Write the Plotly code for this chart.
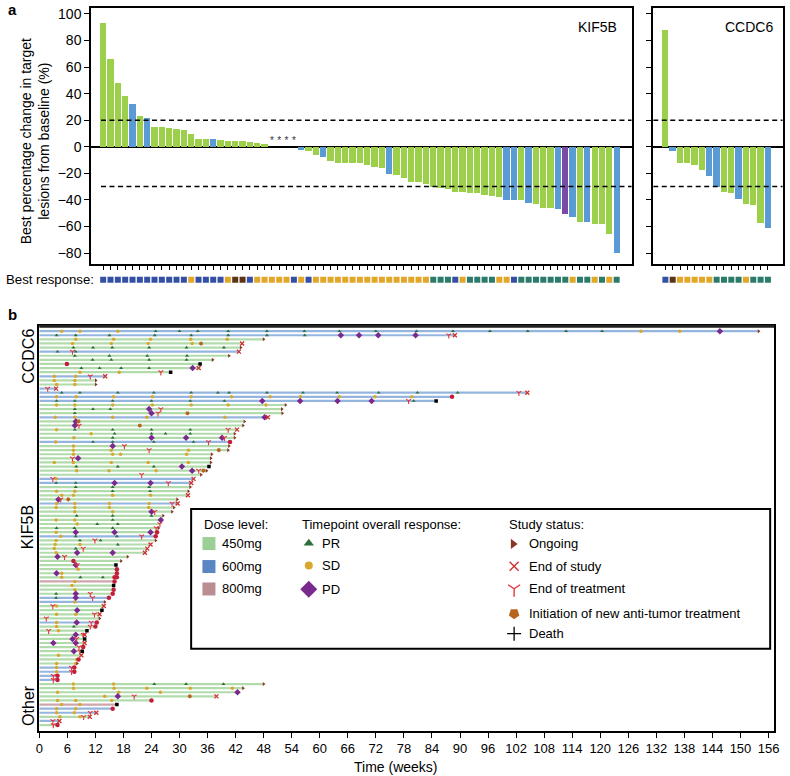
import plotly.graph_objects as go

W, H = 790, 776
def px(x): return x / W
def py(y): return 1 - y / H

FONT = "Liberation Sans, Arial, sans-serif"

# ---------------- Panel a data ----------------
kif_change = [93, 66, 48, 38, 32, 23, 21.5, 15, 15, 14,
              13.5, 13, 10, 6, 6, 5.5, 5, 4.5, 4, 4,
              3.5, 3, 2, 0, 0, 0, 0, -2.5, -3, -6,
              -7.5, -10.5, -12, -12, -12.3, -12.3, -13.8, -15.5, -16.3, -20.3,
              -21.5, -23.3, -26.8, -26.8, -28.3, -30, -31, -31.8, -34.3, -34.3,
              -34.8, -34.8, -36.3, -37.3, -38, -40, -40, -40, -42, -43.3,
              -46, -46, -46.5, -50.3, -53, -56.5, -57, -57.8, -57.8, -65.8,
              -80.3]
kif_dose = [450, 450, 450, 450, 600, 450, 600, 450, 450, 450,
            450, 450, 450, 450, 450, 600, 450, 450, 450, 450,
            450, 450, 450, 450, 450, 450, 450, 600, 450, 450,
            600, 450, 450, 450, 450, 450, 450, 450, 450, 600,
            450, 450, 450, 450, 450, 450, 450, 450, 450, 450,
            450, 450, 450, 450, 450, 600, 600, 450, 600, 450,
            450, 450, 600, 800, 600, 450, 600, 450, 450, 450,
            600]
kif_best = list("DDDDDDDDDDDDSDDDDSNNDSSSSSDSDSSSSSSSSSSSSSSSSRRRDSRRRRSSDRRRRRRRSRRSRSR")
kif_asterisk = [23, 24, 25, 26]

ccdc_change = [88.3, -3, -12.5, -12.5, -14, -17.8, -22.3, -30, -34.3, -35,
               -39.3, -43.3, -44, -57.5, -61.3]
ccdc_dose = [450, 600, 450, 450, 450, 450, 600, 600, 450, 450, 600, 450, 450, 450, 600]
ccdc_best = list("DNSSSSSRRRRSRRR")

y_ticks_a = [-80, -60, -40, -20, 0, 20, 40, 60, 80, 100]
thresholds = [20, -30]

# ---------------- Panel b data (swimmer) ----------------
group_names = ["CCDC6", "KIF5B", "Other"]
group_sizes = [15, 71, 11]
# R=PR, S=SD, D=PD, O=ongoing, X=end of study, Y=end of treatment,
# N=new anti-tumor treatment, K=death, C=overlapping end markers
swim_dose = [
    # CCDC6
    600, 600, 450, 450, 450, 600, 450, 450, 450, 450, 450, 600, 450, 450, 600,
    # KIF5B
    600, 600, 600, 450, 450, 450, 600, 450, 450, 450, 450, 450, 600, 450, 450,
    450, 450, 450, 450, 450, 450, 600, 600, 450, 450, 450, 450, 600, 450, 450,
    450, 450, 450, 450, 450, 600, 450, 450, 450, 450, 450, 450, 450, 450, 450,
    450, 800, 450, 450, 450, 600, 600, 450, 450, 450, 450, 600, 450, 450, 450,
    450, 450, 450, 450, 450, 450, 450, 600, 600, 600, 600,
    # Other
    450, 450, 450, 450, 450, 800, 600, 600, 450, 600, 450]
swim_end = [
    153.9, 88.9, 48, 43.4, 43.1, 42.7, 40.6, 37.1, 34.4, 34.1, 28.1, 14.1, 12.1, 12.1, 3.6,
    104.4, 88.3, 84.9, 52.7, 51.9, 52, 48.9, 43.9, 43.6, 42.3, 41.8, 41.8, 40.8, 40.6, 40.4,
    36.9, 36.7, 36.7, 36.3, 35.8, 34.6, 33, 32.5, 32.3, 31.9, 31.8, 29.5, 29.6, 28.8, 28.4,
    26.5, 26, 25.8, 25.5, 25.2, 24.9, 24.9, 23.8, 23.1, 22.6, 18.9, 17.5, 16.4, 16.6, 16.6,
    16.6, 16.1, 15.9, 15.9, 15.7, 14.9, 14, 13.8, 13.4, 12.9, 12.9, 12.3, 12, 10.2, 9.7,
    9.7, 9.7, 9.4, 9.2, 9, 8.4, 8.1, 7.5, 7.5, 3.9, 3.9,
    48, 43.6, 42.4, 37.9, 24, 16.6, 15.7, 12.2, 10.8, 4.3, 3.9]
swim_events = [
    # CCDC6
    "S4.8 S8.7 S16.8 R24.9 R30 R33.9 R40.4 R48.7 R56.7 R64.2 R72 R80.7 R88.5 R96.4 R104.5 R112.7 R120.4 S128.7 S137 D145.6 O153.9",
    "R3.7 R7.8 R15 R24.7 R32.5 R40.4 R48.7 R56.8 D64.5 D68.4 D72.5 D80.5 Y87.6 X88.9",
    "S7.8 S15.9 S23.8 S32.4 S40.2 O48",
    "S7.1 S15.4 S23.3 S32.7 N34.6 X43.4",
    "R7.3 R11.5 R15.6 R23.5 R31.5 R39.5 O43.1",
    "R3.9 Y7.1 R7.8 X42.7",
    "R7.6 R15 R23.1 R31.6 O40.6",
    "R11.4 R15.4 R23.5 R31.5 O37.1",
    "C5.9 K34.4",
    "R9 R12.9 R17.5 R23.5 D32.8 X34.1",
    "S8.7 S17.1 Y26 K28.1",
    "S3.2 S7.8 Y10.9 X14.1",
    "S3.2 S7.6 O12.1",
    "S3.7 S7.6 O12.1",
    "Y1.8 X3.6",
    # KIF5B
    "R4.8 R8.7 R16.8 R24.5 R32.5 R38.2 R40.6 R48.7 R56.4 R63.7 R72.6 R80.9 R89.5 Y102.6 X104.4",
    "S3.7 S7.9 S15.9 S24.2 S32.5 S41.1 S49.4 S55.9 S64.2 S71.8 S79.7 C88.3",
    "R3.7 R7.6 R15.7 R24 R32.3 R39.6 D47.7 D55.8 D63.8 D71.1 Y79 R80.1 K84.9",
    "S3.7 S7.6 S15.7 S24.2 S32.5 S40.4 S48.5 O52.7",
    "R7.6 R11.5 R15.2 D23.5 Y26 O51.9",
    "R7.6 D24 Y25.4 N31.7 O52",
    "S3.4 S7.6 S15.7 S23 S39.7 D48.2 X48.9",
    "D7.8 N8.4 O43.9",
    "D7.6 Y8.5 N21.5 O43.6",
    "S3.7 R7.6 R15.7 R24 R32.3 Y40.4 X42.3",
    "S11.1 R16.1 R24 R27 R32.3 O41.8",
    "S7.4 R15.7 D24 D31.4 D39.1 Y39.6 O41.8",
    "S3.5 R11.5 R15.7 R24.5 R33 Y36.2 C40.8",
    "S7.3 D15.7 Y18.2 O40.6",
    "S7.3 S15.4 Y23.5 S31.9 N38.4 O40.4",
    "S7.3 S15.7 S17.4 S31.5 O36.9",
    "Y7.1 D8.3 O36.7",
    "S3.2 S7.3 S15.4 S23.3 S31.9 O36.7",
    "R7.9 R16.8 R24.5 D30.5 K36.3",
    "S8 S14.9 S25 D32.7 Y34.1 N35.1 O35.8",
    "Y21.9 O34.6",
    "Y2.9 S3.6 X33",
    "R3.6 R7.8 D16.1 D23.8 Y27.6 X32.5",
    "R7.8 R15.7 R23.5 O32.3",
    "S3.7 S7.6 R15.7 R23.7 O31.9",
    "S4.8 S7.3 S15.7 S23.8 X31.8",
    "D4.1 Y4.6 N6.2 O29.5",
    "S3.7 S7.6 S15 S23.5 Y28.4 X29.6",
    "S3.6 S7.6 S15 S23.4 O28.8",
    "S7.6 S15.7 D24 Y24.7 O28.4",
    "R8 R15.7 R24 O26.5",
    "S3.6 S7.6 R15.7 D26",
    "S8.1 R12.4 R16.8 Y25.8",
    "R3.7 R7.5 R15.7 Y25 O25.5",
    "S3.6 D7.8 D16.1 D23.8 C25.2",
    "S4.6 R7.8 R16.6 Y21.9 C24.9",
    "S3.6 R8.7 Y11.9 R13.1 O24.9",
    "S3.4 S8.7 R16.8 X23.8",
    "S3.2 R7.8 Y9.4 X23.1",
    "S3.6 D8.1 D15.7 X22.6",
    "D3.9 Y5.4 O18.9",
    "C7.3 O17.5",
    "D7.8 Y8.1 K16.4",
    "S8.3 C16.6",
    "D3.7 S4.8 C16.6",
    "S4.8 R8.8 R13.6 C16.1 C16.6",
    "S7.6 C16.1",
    "S7 K15.9",
    "S7.6 C15.9",
    "R3.6 D7.8 Y10.9 C15.7",
    "R3.6 D7.8 Y11.4 C14.9",
    "S7.6 O14",
    "Y2.9 S3.7 X13.8",
    "D8.1 K13.4",
    "S3.7 S7.8 Y11.8 X12.9",
    "Y1.5 O12.9",
    "S3.7 D8 Y11.1 C12.3",
    "S3.7 R7.4 Y10.9 C12",
    "Y2 S4.1 K10.2",
    "D7.8 Y9.4 X9.7",
    "D7.1 Y8 K9.7",
    "D3 D7.8 X9.7",
    "Y8.5 C9.4",
    "D7.4 Y8.7 K9.2",
    "S4.1 X9",
    "S8 C8.4",
    "S3.7 S7.8 O8.1",
    "S3.7 Y6.9 C7.5",
    "S3.7 Y6.9 C7.5",
    "Y3 C3.9",
    "Y3 C3.9",
    # Other
    "S7.3 S15.9 R24.6 R31.4 R39.4 O48",
    "S7.3 S16 S23 S32.3 S41.3 O43.6",
    "S3.9 S17 S25.9 D42.4",
    "S14 D16.8 Y20.3 N32.2 X37.9",
    "S3.9 S7.8 S15.5 C24",
    "S4.8 S8.7 K16.6",
    "S3.7 S7.8 C15.7",
    "S3.7 S7.5 Y10.9 X12.2",
    "S4.4 S8.7 Y9.5 X10.8",
    "Y2.9 X4.3",
    "Y3 C3.9",
]
x_ticks_b = list(range(0, 157, 6))

# ---------------- styles ----------------
bar_col = {450: "#9dd04a", 600: "#5b9bd5", 800: "#7b4aa6"}
best_col = {"D": "#3450a5", "S": "#e2a629", "R": "#2b7b6b", "N": "#5a3415"}
swim_col = {450: "#b2dbac", 600: "#94b6de", 800: "#cba6aa"}
sw_col = {450: "#9ccf96", 600: "#5b86c4", 800: "#b98d92"}
mk = {
    "S": dict(symbol="circle", size=3.5, color="#d8a82e", line=dict(width=0)),
    "R": dict(symbol="triangle-up", size=3.5, color="#2f6f3a", line=dict(width=0)),
    "D": dict(symbol="diamond", size=5, color="#7a2a8e", line=dict(width=0)),
    "Y": dict(symbol="y-down", size=4, color="#e8323c", line=dict(width=1.1, color="#e8323c")),
    "X": dict(symbol="x-thin", size=4, color="#d03030", line=dict(width=1.3, color="#d03030")),
    "N": dict(symbol="pentagon", angle=180, size=4.5, color="#b5651d", line=dict(width=0)),
    "C": dict(symbol="circle", size=4.5, color="#c41e3a", line=dict(width=0)),
    "K": dict(symbol="square", size=3.5, color="#000000", line=dict(width=0)),
    "O": dict(symbol="triangle-right", size=3.5, color="#8b3324", line=dict(width=0)),
}

fig = go.Figure()

# ---- panel a: bars ----
fig.add_trace(go.Bar(x=list(range(len(kif_change))), y=kif_change,
                     marker=dict(color=[bar_col[d] for d in kif_dose], line=dict(width=0)),
                     width=0.86, xaxis="x", yaxis="y", hoverinfo="skip"))
fig.add_trace(go.Bar(x=list(range(len(ccdc_change))), y=ccdc_change,
                     marker=dict(color=[bar_col[d] for d in ccdc_dose], line=dict(width=0)),
                     width=0.86, xaxis="x2", yaxis="y2", hoverinfo="skip"))
fig.add_trace(go.Scatter(x=kif_asterisk, y=[0] * len(kif_asterisk), mode="text",
                         text=["*"] * len(kif_asterisk), textposition="top center",
                         textfont=dict(size=10, color="#333333", family=FONT),
                         xaxis="x", yaxis="y", hoverinfo="skip"))
# best response squares
fig.add_trace(go.Scatter(x=list(range(len(kif_best))), y=[0] * len(kif_best), mode="markers",
                         marker=dict(symbol="square", size=6, color=[best_col[c] for c in kif_best],
                                     line=dict(width=0)),
                         xaxis="x", yaxis="y3", hoverinfo="skip"))
fig.add_trace(go.Scatter(x=list(range(len(ccdc_best))), y=[0] * len(ccdc_best), mode="markers",
                         marker=dict(symbol="square", size=6, color=[best_col[c] for c in ccdc_best],
                                     line=dict(width=0)),
                         xaxis="x2", yaxis="y4", hoverinfo="skip"))

# ---- panel b: swimmer lines ----
for dose in (450, 600, 800):
    xs, ys = [], []
    for r, (d, e) in enumerate(zip(swim_dose, swim_end)):
        if d == dose:
            xs += [0, e, None]
            ys += [r, r, None]
    fig.add_trace(go.Scatter(x=xs, y=ys, mode="lines",
                             line=dict(color=swim_col[dose], width=2.2),
                             xaxis="x3", yaxis="y5", hoverinfo="skip"))

ev = {k: ([], []) for k in mk}
for r, s in enumerate(swim_events):
    for tok in s.split():
        ev[tok[0]][0].append(float(tok[1:]))
        ev[tok[0]][1].append(r)
for k in ["S", "R", "D", "N", "Y", "X", "C", "K", "O"]:
    fig.add_trace(go.Scatter(x=ev[k][0], y=ev[k][1], mode="markers", marker=mk[k],
                             xaxis="x3", yaxis="y5", hoverinfo="skip"))

# ---- legend of panel b (pixel overlay) ----
leg_sw_y = [543, 566, 588.5]
for d, yy in zip((450, 600, 800), leg_sw_y):
    fig.add_trace(go.Scatter(x=[207.3], y=[yy], mode="markers",
                             marker=dict(symbol="square", size=13, color=sw_col[d], line=dict(width=0)),
                             xaxis="x4", yaxis="y6", hoverinfo="skip"))
leg_marks = [("R", 308.3, 542.7, 9), ("S", 308.3, 565, 8), ("D", 308.3, 588.7, 13),
             ("O", 515, 543.3, 9), ("X", 516, 565.7, 9), ("Y", 516, 588.3, 10),
             ("N", 516, 613.3, 11), ("K", 516, 633.3, 10)]
for k, xx, yy, sz in leg_marks:
    m = dict(mk[k])
    m["size"] = sz
    if k == "K":
        m = dict(symbol="cross-thin", size=sz, color="#000", line=dict(width=1.3, color="#000"))
    if k in ("X", "Y"):
        m["line"] = dict(width=1.4, color=mk[k]["color"])
    fig.add_trace(go.Scatter(x=[xx], y=[yy], mode="markers", marker=m,
                             xaxis="x4", yaxis="y6", hoverinfo="skip"))

# ---------------- layout ----------------
axis_common = dict(showgrid=False, zeroline=False, showline=True, linecolor="black",
                   linewidth=1.5, mirror=True, tickcolor="black",
                   tickfont=dict(family=FONT, size=14, color="black"))
layout = dict(
    width=W, height=H, autosize=False, showlegend=False,
    margin=dict(l=0, r=0, t=0, b=0, pad=0),
    paper_bgcolor="white", plot_bgcolor="rgba(0,0,0,0)",
    font=dict(family=FONT, color="black"),
    bargap=0,
    xaxis=dict(axis_common, domain=[px(88), px(635)], range=[-1.66, 72.06], anchor="y",
               tickvals=list(range(len(kif_change))), ticks="outside", ticklen=4, tickwidth=1.2,
               showticklabels=False),
    yaxis=dict(axis_common, domain=[py(262.7), py(6)], range=[-88.3, 104.5], anchor="x",
               tickvals=y_ticks_a, ticks="outside", ticklen=5, tickwidth=1.2,
               zeroline=True, zerolinecolor="black", zerolinewidth=1.5),
    xaxis2=dict(axis_common, domain=[px(656.7), px(787.7)], range=[-1.66, 16.02], anchor="y2",
                tickvals=list(range(len(ccdc_change))), ticks="outside", ticklen=4, tickwidth=1.2,
                showticklabels=False),
    yaxis2=dict(axis_common, domain=[py(262.7), py(6)], range=[-88.3, 104.5], anchor="x2",
                tickvals=y_ticks_a, ticks="outside", ticklen=5, tickwidth=1.2, showticklabels=False,
                zeroline=True, zerolinecolor="black", zerolinewidth=1.5),
    yaxis3=dict(domain=[py(285), py(272)], range=[-1, 1], anchor="x", visible=False),
    yaxis4=dict(domain=[py(285), py(272)], range=[-1, 1], anchor="x2", visible=False),
    xaxis3=dict(axis_common, domain=[px(35.7), px(779)], range=[0, 157.2], anchor="y5",
                tickvals=x_ticks_b, ticks="outside", ticklen=5, tickwidth=1.2, linewidth=2,
                tickfont=dict(family=FONT, size=13, color="black")),
    yaxis5=dict(axis_common, domain=[py(730.7), py(325)], range=[97.4, -1.215], anchor="x3",
                showticklabels=False, ticks="", linewidth=2),
    xaxis4=dict(domain=[0, 1], range=[0, W], anchor="y6", visible=False),
    yaxis6=dict(domain=[0, 1], range=[H, 0], anchor="x4", visible=False),
)
fig.update_layout(**layout)

# threshold dashed lines
for t in thresholds:
    fig.add_shape(type="line", xref="x", yref="y", x0=-0.3, x1=72.06, y0=t, y1=t,
                  line=dict(color="black", width=1.5, dash="5px,3.5px"))
    fig.add_shape(type="line", xref="x2", yref="y2", x0=-1.66, x1=16.02, y0=t, y1=t,
                  line=dict(color="black", width=1.5, dash="5px,3.5px"))
# thicker top border of panel b
fig.add_shape(type="line", xref="paper", yref="paper", x0=px(35.7), x1=px(779),
              y0=py(325), y1=py(325), line=dict(color="#222", width=3))
# legend box
fig.add_shape(type="rect", xref="paper", yref="paper", x0=px(189.3), x1=px(775),
              y0=py(648.3), y1=py(508.3), line=dict(color="black", width=2))

def ann(text, x, y, size=13.5, xanchor="left", angle=0, bold=False):
    fig.add_annotation(text=("<b>%s</b>" % text) if bold else text, x=px(x), y=py(y),
                       xref="paper", yref="paper", showarrow=False, xanchor=xanchor,
                       yanchor="middle", textangle=angle,
                       font=dict(family=FONT, size=size, color="black"))

ann("a", 2, 8, size=15, bold=True)
ann("b", 2, 313, size=15, bold=True)
ann("Best percentage change in target<br>lesions from baseline (%)", 31, 140, size=14, xanchor="center", angle=-90)
ann("Best response:", 0, 278, size=13.2)
ann("KIF5B", 600, 25, size=14, xanchor="center")
ann("CCDC6", 754, 25, size=14, xanchor="center")
ann("CCDC6", 24, 355, size=16, xanchor="center", angle=-90)
ann("KIF5B", 24, 527, size=16, xanchor="center", angle=-90)
ann("Other", 24, 705, size=16, xanchor="center", angle=-90)
ann("Time (weeks)", 397, 767, size=14, xanchor="center")

ann("Dose level:", 200.7, 524, size=13)
for lab, yy in zip(["450mg", "600mg", "800mg"], leg_sw_y):
    ann(lab, 218.7, yy, size=13)
ann("Timepoint overall response:", 299.3, 524, size=13)
for lab, yy in zip(["PR", "SD", "PD"], [542.7, 565, 588.7]):
    ann(lab, 320, yy, size=13)
ann("Study status:", 508.3, 524, size=13)
for lab, yy in zip(["Ongoing", "End of study", "End of treatment",
                    "Initiation of new anti-tumor treatment", "Death"],
                   [543.3, 565.7, 588.3, 613.3, 633.3]):
    ann(lab, 529.3, yy, size=13)

fig.write_html("out.html")
